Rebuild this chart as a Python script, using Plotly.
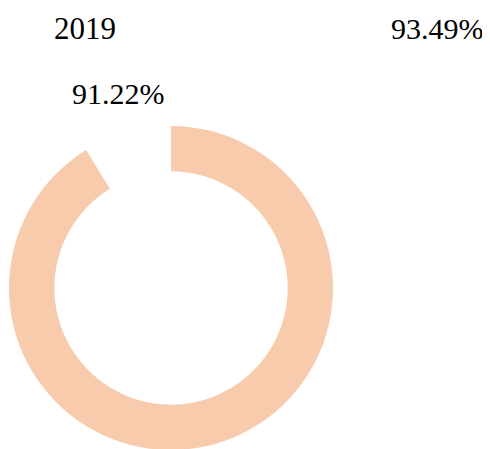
import plotly.graph_objects as go

year = "2019"
ring_labels = ["Value", "Remainder"]
ring_values = [91.22, 100 - 91.22]
headline_value = 93.49
ring_value = 91.22

W, H = 490, 449
OFF = 8  # page body margin


def px(x):
    return (x - OFF) / W


def py(y):
    return 1 - (y - OFF) / H


cx, cy, R = 171, 288, 162
fig = go.Figure()
fig.add_trace(go.Pie(
    labels=ring_labels,
    values=ring_values,
    hole=0.72,
    sort=False,
    direction="clockwise",
    rotation=0,
    marker=dict(colors=["#F7CBAC", "rgba(0,0,0,0)"], line=dict(width=0)),
    textinfo="none",
    hoverinfo="skip",
    showlegend=False,
    domain=dict(x=[px(cx - R - 1), px(cx + R + 1)], y=[py(cy + R), py(cy - R)]),
))

serif = "Liberation Serif, Times New Roman, serif"
fig.add_annotation(x=px(84.7), y=py(28.5), xref="paper", yref="paper", text=year,
                   showarrow=False, font=dict(family=serif, size=31, color="#000"),
                   xanchor="center", yanchor="middle")
fig.add_annotation(x=px(437), y=py(28.5), xref="paper", yref="paper", text=f"{headline_value:.2f}%",
                   showarrow=False, font=dict(family=serif, size=30, color="#000"),
                   xanchor="center", yanchor="middle")
fig.add_annotation(x=px(118.4), y=py(93.5), xref="paper", yref="paper", text=f"{ring_value:.2f}%",
                   showarrow=False, font=dict(family=serif, size=30, color="#000"),
                   xanchor="center", yanchor="middle")

fig.update_layout(
    width=W, height=H,
    margin=dict(l=0, r=0, t=0, b=0),
    paper_bgcolor="white", plot_bgcolor="white",
)
fig.write_html("out.html")
